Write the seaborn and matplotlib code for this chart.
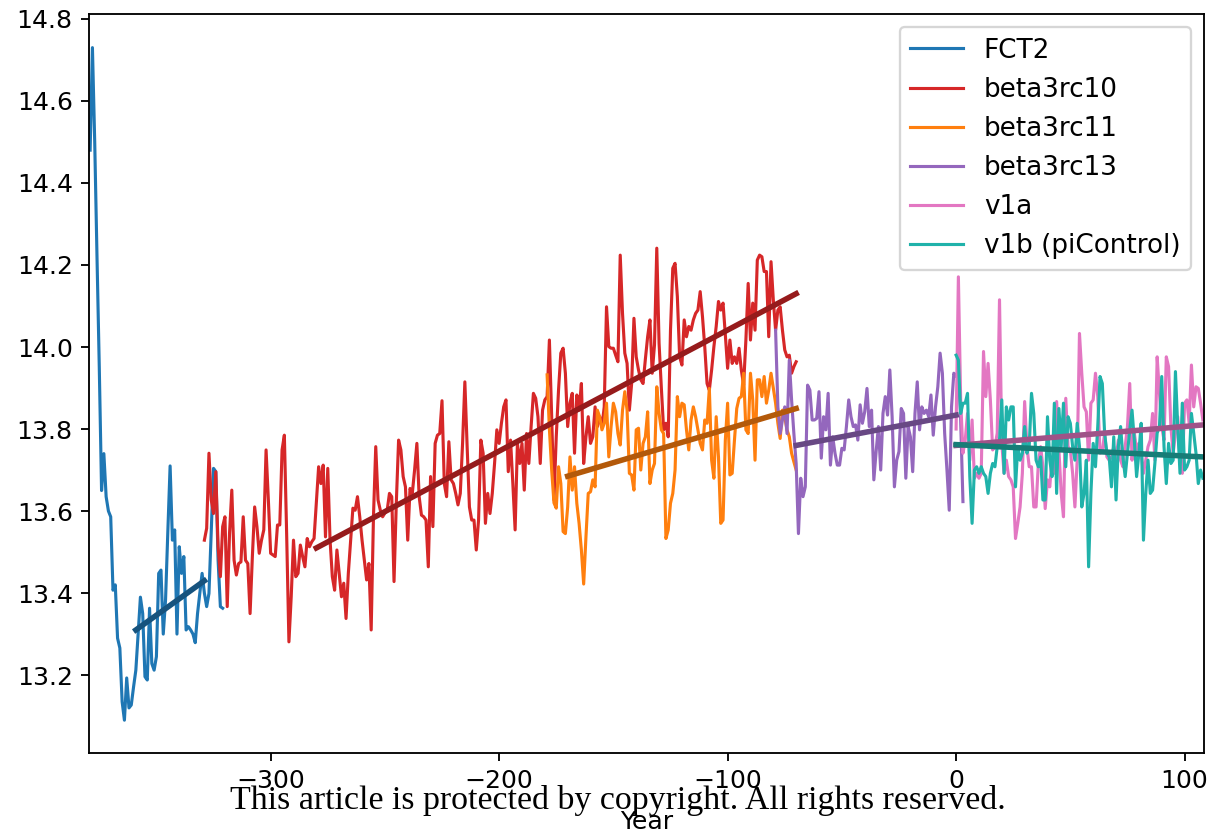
import numpy as np
import pandas as pd
import matplotlib
matplotlib.use("Agg")
import matplotlib.pyplot as plt
import seaborn as sns
from matplotlib.colors import to_rgb

# ---- data -------------------------------------------------------------
runs = ["FCT2", "beta3rc10", "beta3rc11", "beta3rc13", "v1a", "v1b (piControl)"]
first_years = [-379, -329, -179, -79, 0, 0]

fct2 = [14.48, 14.73, 14.50, 14.22, 13.95, 13.65, 13.74, 13.635, 13.60, 13.586,
        13.407, 13.42, 13.29, 13.266, 13.135, 13.09, 13.193, 13.12, 13.127, 13.171,
        13.212, 13.30, 13.39, 13.35, 13.196, 13.188, 13.363, 13.228, 13.212, 13.245,
        13.448, 13.456, 13.30, 13.383, 13.55, 13.71, 13.529, 13.554, 13.30, 13.513,
        13.448, 13.489, 13.31, 13.318, 13.31, 13.30, 13.279, 13.35, 13.40, 13.448,
        13.40, 13.367, 13.399, 13.55, 13.704, 13.696, 13.48, 13.367, 13.363]

beta3rc10 = [13.529, 13.558, 13.741, 13.627, 13.594, 13.696, 13.513, 13.44, 13.562, 13.586,
             13.367, 13.545, 13.651, 13.48, 13.444, 13.472, 13.476, 13.586, 13.48, 13.472,
             13.35, 13.489, 13.61, 13.562, 13.497, 13.529, 13.554, 13.749, 13.627, 13.497,
             13.493, 13.489, 13.566, 13.566, 13.749, 13.785, 13.545, 13.281, 13.391, 13.529,
             13.44, 13.448, 13.517, 13.489, 13.464, 13.533, 13.513, 13.525, 13.533, 13.62,
             13.708, 13.667, 13.712, 13.537, 13.704, 13.529, 13.44, 13.407, 13.505, 13.448,
             13.391, 13.424, 13.338, 13.448, 13.529, 13.607, 13.602, 13.635, 13.586, 13.529,
             13.48, 13.432, 13.472, 13.31, 13.586, 13.757, 13.627,
             13.602, 13.586, 13.595, 13.602, 13.643, 13.635, 13.428, 13.62, 13.773, 13.749,
             13.684, 13.659, 13.529, 13.655, 13.643, 13.70, 13.765, 13.635, 13.59, 13.586,
             13.578, 13.464, 13.684, 13.562, 13.765, 13.785, 13.789, 13.869, 13.667, 13.635,
             13.769, 13.676, 13.667, 13.643, 13.615, 13.643, 13.765, 13.915, 13.757, 13.61,
             13.578, 13.578, 13.505, 13.578, 13.773, 13.741, 13.57, 13.643, 13.594, 13.643,
             13.716, 13.798, 13.765, 13.814, 13.854, 13.871, 13.696, 13.773, 13.667, 13.554,
             13.765, 13.716, 13.765, 13.651, 13.789, 13.716, 13.806, 13.887, 13.875, 13.83,
             13.716, 13.846, 13.871, 13.879, 14.017, 13.83, 13.627, 13.781, 13.895, 13.985,
             13.997, 13.936, 13.806, 13.863, 13.887, 13.741, 13.883, 13.846,
             13.911, 13.716, 13.781, 13.83, 13.765, 13.781, 13.854, 13.806, 13.83, 13.806,
             13.854, 14.098, 14.001, 13.997, 13.997,
             13.98, 13.964, 14.224, 14.082, 13.985, 13.96, 13.846, 13.911, 14.07, 13.976,
             13.944, 13.92, 13.911, 13.97, 14.025, 14.066, 13.936, 14.005, 14.241, 14.009,
             13.90, 13.798, 13.814, 13.781, 14.041, 14.192, 14.204, 14.123, 13.976, 13.956,
             14.066, 14.025, 14.05, 14.041, 14.066, 14.082, 14.09, 14.135, 14.074, 14.00,
             13.911, 13.895, 13.944, 14.001, 14.05, 14.111, 14.09, 14.107, 14.03, 13.948,
             14.017, 13.96, 13.976, 13.96, 13.997, 13.944, 13.907, 14.017, 14.155, 14.017,
             14.107, 14.041, 14.212, 14.224, 14.22, 14.184, 14.184, 14.025, 14.208, 14.115,
             14.041, 14.09, 14.098, 14.041, 13.993, 13.976, 13.98, 13.936, 13.952, 13.964]

beta3rc11 = [13.932, 13.80, 13.70, 13.62, 13.607, 13.708, 13.667, 13.55, 13.545, 13.61,
             13.732, 13.651, 13.708, 13.619, 13.57, 13.505, 13.422, 13.537, 13.643, 13.647,
             13.676, 13.659, 13.846, 13.83, 13.798, 13.814, 13.863, 13.732, 13.806, 13.863,
             13.842, 13.789, 13.761, 13.846, 13.891, 13.846, 13.692, 13.688, 13.651, 13.798,
             13.802, 13.70, 13.765, 13.781, 13.842, 13.667, 13.70, 13.716, 13.903, 13.838,
             13.798, 13.789, 13.533, 13.554, 13.619, 13.643, 13.70, 13.879, 13.83, 13.863,
             13.859, 13.798, 13.749, 13.822, 13.854, 13.83, 13.798, 13.765, 13.749, 13.822,
             13.814, 13.899, 13.724, 13.68, 13.83, 13.732, 13.57, 13.578, 13.773, 13.863,
             13.688, 13.692, 13.773, 13.85, 13.875, 13.879, 13.936, 13.798, 13.789, 13.936,
             13.871, 13.724, 13.92, 13.92, 13.879, 13.928, 13.863, 13.895, 13.936, 13.90,
             13.863, 13.814, 13.777, 13.846, 13.83, 13.798, 13.781, 13.741, 13.72, 13.70]

beta3rc13 = [14.041, 13.854, 13.789, 13.822, 13.854, 13.789, 13.968, 13.871, 13.789, 13.716,
             13.545, 13.68, 13.635, 13.659, 13.907, 13.895, 13.822, 13.822, 13.826, 13.891,
             13.729, 13.83, 13.798, 13.887, 13.712, 13.781, 13.741, 13.712, 13.712, 13.753,
             13.749, 13.806, 13.871, 13.83, 13.806, 13.81, 13.773, 13.859, 13.814, 13.842,
             13.899, 13.806, 13.846, 13.676, 13.745, 13.806, 13.70, 13.838, 13.879, 13.834,
             13.944, 13.83, 13.659, 13.724, 13.745, 13.85, 13.838, 13.68, 13.806, 13.781,
             13.696, 13.838, 13.915, 13.798, 13.854, 13.838, 13.846, 13.83, 13.883, 13.785,
             13.854, 13.903, 13.985, 13.936, 13.789, 13.70, 13.602, 13.854, 13.936, 13.928,
             13.944, 13.822, 13.623]

v1a = [13.80, 14.171, 13.871, 13.741, 13.773, 13.838, 13.724, 13.822, 13.68, 13.692,
       13.68, 13.692, 13.989, 13.879, 13.96, 13.871, 13.749, 13.757, 13.79, 14.115,
       13.765, 13.692, 13.724, 13.684, 13.676, 13.659, 13.533, 13.57, 13.61, 13.692,
       13.867, 13.757, 13.708, 13.708, 13.61, 13.61, 13.716, 13.757, 13.708, 13.606,
       13.676, 13.659, 13.732, 13.692, 13.867, 13.749, 13.643, 13.586, 13.875, 13.757,
       13.749, 13.692, 13.61, 13.724, 14.033, 13.936, 13.854, 13.842, 13.724, 13.863,
       13.871, 13.936, 13.879, 13.741, 13.745, 13.79, 13.732, 13.724, 13.732, 13.757,
       13.724, 13.773, 13.724, 13.708, 13.757, 13.806, 13.911, 13.724, 13.79, 13.749,
       13.765, 13.741, 13.692, 13.724, 13.757, 13.773, 13.838, 13.724, 13.976, 13.887,
       13.806, 13.773, 13.976, 13.952, 13.806, 13.741, 13.79, 13.83, 13.724, 13.692,
       13.863, 13.871, 13.814, 13.956, 13.854, 13.903, 13.899, 13.863, 13.822]

v1b = [13.98, 13.968, 13.838, 13.863, 13.863, 13.887, 13.684, 13.57, 13.70, 13.708,
       13.692, 13.708, 13.692, 13.684, 13.643, 13.692, 13.716, 13.708, 13.757, 13.773,
       13.871, 13.692, 13.854, 13.822, 13.854, 13.854, 13.659, 13.757, 13.724, 13.741,
       13.806, 13.741, 13.757, 13.887, 13.838, 13.724, 13.708, 13.732, 13.627, 13.627,
       13.83, 13.724, 13.684, 13.863, 13.643, 13.85, 13.757, 13.863, 13.708, 13.83,
       13.814, 13.757, 13.724, 13.814, 13.757, 13.61, 13.643, 13.724, 13.464, 13.643,
       13.765, 13.708, 13.806, 13.928, 13.911, 13.79, 13.741, 13.732, 13.659, 13.781,
       13.627, 13.757, 13.806, 13.732, 13.684, 13.741, 13.798, 13.846, 13.773, 13.684,
       13.741, 13.814, 13.529, 13.643, 13.724, 13.643, 13.651, 13.716, 13.79, 13.806,
       13.928, 13.757, 13.667, 13.765, 13.716, 13.724, 13.94, 13.806, 13.692, 13.863,
       13.70, 13.708, 13.724, 13.838, 13.79, 13.741, 13.667, 13.70, 13.68]

series = [fct2, beta3rc10, beta3rc11, beta3rc13, v1a, v1b]

# linear trend segments (start/end year and fitted value)
trend_start_years = [-359, -280, -170, -70, 0, 0]
trend_end_years = [-329, -70, -70, 0, 108, 108]
trend_start_values = [13.31, 13.51, 13.685, 13.76, 13.76, 13.762]
trend_end_values = [13.43, 14.13, 13.85, 13.834, 13.81, 13.732]

# ---- styling ----------------------------------------------------------
line_colors = ["#1f77b4", "#d62728", "#ff7f0e", "#9467bd", "#e377c2", "#20b2aa"]
palette = dict(zip(runs, line_colors))
dark_palette = {r: tuple(0.7 * np.array(to_rgb(c))) for r, c in zip(runs, line_colors)}

frames = []
for name, start, vals in zip(runs, first_years, series):
    frames.append(pd.DataFrame({"Year": start + np.arange(len(vals)),
                                "temp": vals, "run": name}))
df = pd.concat(frames, ignore_index=True)

trend_frames = []
for name, y0, y1, v0, v1 in zip(runs, trend_start_years, trend_end_years,
                                trend_start_values, trend_end_values):
    trend_frames.append(pd.DataFrame({"Year": [y0, y1], "temp": [v0, v1], "run": name}))
tdf = pd.concat(trend_frames, ignore_index=True)

dpi = 166
plt.rcParams["xtick.labelsize"] = 10.9
plt.rcParams["ytick.labelsize"] = 10.9
plt.rcParams["axes.labelsize"] = 10.9
plt.rcParams["legend.fontsize"] = 11.4

fig = plt.figure(figsize=(1209 / dpi, 830 / dpi), dpi=dpi)
ax = fig.add_axes([89 / 1209, 1 - 753 / 830, (1204 - 89) / 1209, (753 - 14) / 830])

sns.lineplot(data=df, x="Year", y="temp", hue="run", hue_order=runs,
             palette=palette, linewidth=1.35, sort=False, ax=ax)
sns.lineplot(data=tdf, x="Year", y="temp", hue="run", hue_order=runs,
             palette=dark_palette, linewidth=2.4, legend=False, ax=ax)

ax.set_xlim(-379.5, 108.5)
ax.set_ylim(13.01, 14.812)
ax.set_xticks([-300, -200, -100, 0, 100])
ax.set_yticks(np.arange(13.2, 14.81, 0.2))
ax.set_xlabel("Year", labelpad=7.5)
ax.set_ylabel("")
sns.move_legend(ax, "upper right", title=None)

fig.text(0.5107, 1 - 809 / 830,
         "This article is protected by copyright. All rights reserved.",
         ha="center", va="baseline", fontsize=14.7, family="Liberation Serif")

fig.savefig("out.png", dpi=dpi)
